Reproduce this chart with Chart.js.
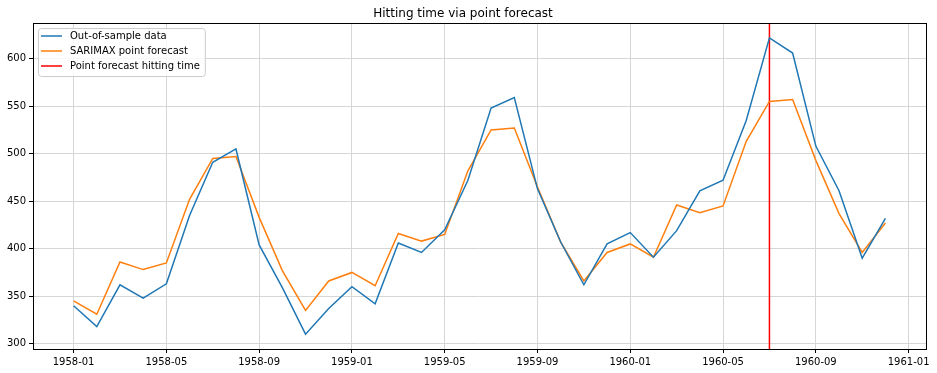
<!DOCTYPE html>
<html>
<head>
<meta charset="utf-8">
<script src="https://cdn.jsdelivr.net/npm/chart.js@4"></script>
<style>
  body { margin: 0; background: #fff; }
</style>
</head>
<body>
<canvas id="chart" width="937" height="373"></canvas>
<script>
// Months of the out-of-sample window
const months = [
    '1958-01', '1958-02', '1958-03', '1958-04', '1958-05', '1958-06',
    '1958-07', '1958-08', '1958-09', '1958-10', '1958-11', '1958-12',
    '1959-01', '1959-02', '1959-03', '1959-04', '1959-05', '1959-06',
    '1959-07', '1959-08', '1959-09', '1959-10', '1959-11', '1959-12',
    '1960-01', '1960-02', '1960-03', '1960-04', '1960-05', '1960-06',
    '1960-07', '1960-08', '1960-09', '1960-10', '1960-11', '1960-12'
];

// Actual passengers (out-of-sample data)
const actual = [
    340, 318, 362, 348, 363, 435, 491, 505, 404, 359, 310, 337,
    360, 342, 406, 396, 420, 472, 548, 559, 463, 407, 362, 405,
    417, 391, 419, 461, 472, 535, 622, 606, 508, 461, 390, 432
];

// SARIMAX point forecast
const forecast = [
    345, 331, 386, 378, 385, 452, 495, 497, 433, 377, 335, 366,
    375, 361, 416, 408, 415, 482, 525, 527, 465, 407, 366, 396,
    405, 391, 446, 438, 445, 513, 555, 557, 493, 437, 396, 427
];

// Month where the point forecast hits the threshold
const hittingMonth = '1960-07';

// x-axis tick labels and y-axis ticks
const xTickLabels = ['1958-01', '1958-05', '1958-09', '1959-01', '1959-05', '1959-09', '1960-01', '1960-05', '1960-09', '1961-01'];
const yTicks = [300, 350, 400, 450, 500, 550, 600];

// month string -> index counted from 1958-01
function monthIndex(s) {
    const [y, m] = s.split('-').map(Number);
    return (y - 1958) * 12 + (m - 1);
}

const xTickValues = xTickLabels.map(monthIndex);

// matplotlib-like 5% margins
const allY = actual.concat(forecast);
const yLo = Math.min(...allY), yHi = Math.max(...allY);
const yMin = yLo - (yHi - yLo) * 0.05;
const yMax = yHi + (yHi - yLo) * 0.05;
const xSpan = months.length - 1;
const xMin = -xSpan * 0.05;
const xMax = xSpan + xSpan * 0.05;

const hitX = monthIndex(hittingMonth);

const FONT = 'DejaVu Sans';

// Draw the frame around the plot area
const framePlugin = {
    id: 'frame',
    afterDraw(chart) {
        const a = chart.chartArea;
        const ctx = chart.ctx;
        ctx.save();
        ctx.strokeStyle = '#000';
        ctx.lineWidth = 1;
        ctx.strokeRect(Math.round(a.left) + 0.5, Math.round(a.top) + 0.5,
            Math.round(a.right - a.left), Math.round(a.bottom - a.top));
        ctx.restore();
    }
};

// Legend drawn inside the plot, upper left, like matplotlib
const innerLegend = {
    id: 'innerLegend',
    afterDraw(chart) {
        const a = chart.chartArea;
        const ctx = chart.ctx;
        const x0 = a.left + 5, y0 = a.top + 5;
        const rowH = 15;
        ctx.save();
        ctx.font = '10px "' + FONT + '"';
        let maxW = 0;
        chart.data.datasets.forEach(ds => {
            maxW = Math.max(maxW, ctx.measureText(ds.label).width);
        });
        const w = 32 + maxW + 5;
        const h = rowH * chart.data.datasets.length + 3;
        ctx.fillStyle = 'rgba(255,255,255,0.8)';
        ctx.strokeStyle = '#cccccc';
        ctx.lineWidth = 1;
        ctx.beginPath();
        ctx.roundRect(x0 + 0.5, y0 + 0.5, w, h, 3);
        ctx.fill();
        ctx.stroke();
        ctx.textBaseline = 'middle';
        chart.data.datasets.forEach((ds, i) => {
            const cy = y0 + 8 + i * rowH;
            ctx.strokeStyle = ds.borderColor;
            ctx.lineWidth = 1.5;
            ctx.beginPath();
            ctx.moveTo(x0 + 3, cy);
            ctx.lineTo(x0 + 24, cy);
            ctx.stroke();
            ctx.fillStyle = '#000';
            ctx.fillText(ds.label, x0 + 32, cy);
        });
        ctx.restore();
    }
};

const ctx = document.getElementById('chart').getContext('2d');
new Chart(ctx, {
    type: 'line',
    data: {
        datasets: [
            {
                label: 'Out-of-sample data',
                data: actual.map((v, i) => ({ x: i, y: v })),
                borderColor: '#1f77b4',
                borderWidth: 1.5
            },
            {
                label: 'SARIMAX point forecast',
                data: forecast.map((v, i) => ({ x: i, y: v })),
                borderColor: '#ff7f0e',
                borderWidth: 1.5
            },
            {
                label: 'Point forecast hitting time',
                data: [{ x: hitX, y: yMin }, { x: hitX, y: yMax }],
                borderColor: '#ff0000',
                borderWidth: 1.5
            }
        ]
    },
    options: {
        responsive: false,
        animation: false,
        devicePixelRatio: 1,
        elements: {
            point: { radius: 0, hoverRadius: 0 },
            line: { tension: 0, fill: false }
        },
        layout: { padding: { left: 0, right: 11, top: 0, bottom: 0 } },
        plugins: {
            legend: { display: false },
            tooltip: { enabled: false },
            title: {
                display: true,
                text: 'Hitting time via point forecast',
                color: '#000',
                font: { family: FONT, size: 12, weight: 'normal', lineHeight: 1.2 },
                padding: { top: 7, bottom: 1.6 }
            }
        },
        scales: {
            x: {
                type: 'linear',
                min: xMin,
                max: xMax,
                afterBuildTicks(scale) {
                    scale.ticks = xTickValues.map(v => ({ value: v }));
                },
                afterFit(scale) {
                    scale.height = 24;
                },
                ticks: {
                    autoSkip: false,
                    maxRotation: 0,
                    color: '#000',
                    padding: 3,
                    font: { family: FONT, size: 10 },
                    callback: (value, index) => xTickLabels[index]
                },
                grid: {
                    color: '#d6d6d6',
                    lineWidth: 1,
                    drawTicks: true,
                    tickLength: 4,
                    tickColor: '#000'
                },
                border: { display: false }
            },
            y: {
                type: 'linear',
                min: yMin,
                max: yMax,
                afterBuildTicks(scale) {
                    scale.ticks = yTicks.map(v => ({ value: v }));
                },
                afterFit(scale) {
                    scale.width = 33;
                },
                ticks: {
                    color: '#000',
                    padding: 3,
                    font: { family: FONT, size: 10 },
                    callback: v => String(v)
                },
                grid: {
                    color: '#d6d6d6',
                    lineWidth: 1,
                    drawTicks: true,
                    tickLength: 4,
                    tickColor: '#000'
                },
                border: { display: false }
            }
        }
    },
    plugins: [framePlugin, innerLegend]
});
</script>
</body>
</html>
